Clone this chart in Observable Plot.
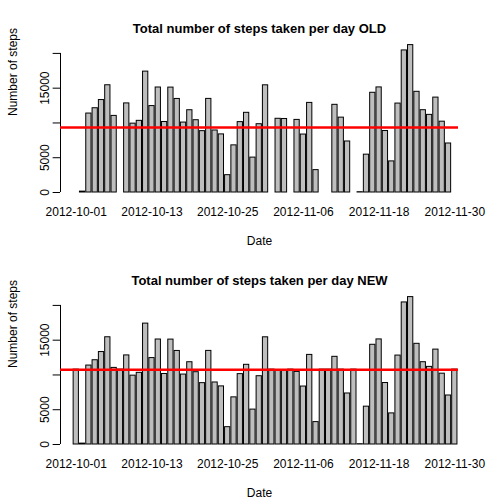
<!DOCTYPE html>
<html><head>
<script src="https://cdn.jsdelivr.net/npm/d3@7"></script>
<script src="https://cdn.jsdelivr.net/npm/@observablehq/plot@0.6"></script>
<style>body{margin:0;background:#fff}svg{display:block}</style>
</head><body><div id="chart"></div>
<script>
const dates = d3.timeDay.range(new Date(2012, 9, 1), new Date(2012, 11, 1)).map(d3.timeFormat('%Y-%m-%d'))
const stepsOld = [null,126,11352,12116,13294,15420,11015,null,12811,9900,10304,17382,12426,15098,10139,15084,13452,10056,11829,10395,8821,13460,8918,8355,2492,6778,10119,11458,5018,9819,15414,null,10600,10571,null,10439,8334,12883,3219,null,null,12608,10765,7336,null,41,5441,14339,15110,8841,4472,12787,20427,21194,14478,11834,11162,13646,10183,7047,null]
const fillValue = 10766.19
const stepsNew = stepsOld.map(v => v == null ? fillValue : v)
const meanOld = 9354.23
const meanNew = 10766.19
const yTicks = [0, 5000, 10000, 15000, 20000]
const yLabels = {0: '0', 5000: '5000', 15000: '15000'}
const labelIdx = [0, 12, 24, 36, 48, 60]
const axisX = -2.3

function panel(values, mean, title) {
  const data = values.map((v, i) => ({i, date: dates[i], v})).filter(d => d.v != null)
  const labs = labelIdx.map(i => ({x: 0.7 + 1.2 * i, t: dates[i]}))
  return Plot.plot({
    width: 504, height: 252,
    marginLeft: 60, marginRight: 46, marginTop: 39, marginBottom: 60,
    style: {fontFamily: 'Liberation Sans, Arial, sans-serif', fontSize: '12px', color: '#000'},
    x: {type: 'linear', domain: [-2.3, 73.4], axis: null},
    y: {type: 'linear', domain: [0, 22000], axis: null},
    marks: [
      Plot.rectY(data, {x1: d => 0.2 + 1.2 * d.i, x2: d => 1.2 + 1.2 * d.i, y1: 0, y2: 'v', fill: '#bebebe', stroke: '#000', strokeWidth: 1}),
      Plot.ruleX([axisX], {x: d => d, y1: 0, y2: 20000, stroke: '#000'}),
      Plot.ruleY(yTicks, {y: d => d, x1: axisX - 1.4, x2: axisX, stroke: '#000'}),
      Plot.text(yTicks.filter(t => yLabels[t]), {y: d => d, x: () => axisX, text: d => yLabels[d], rotate: -90, dx: -15, fontSize: 12}),
      Plot.text(labs, {x: 'x', text: 't', frameAnchor: 'bottom', dy: 23, fontSize: 12}),
      Plot.ruleY([mean], {y: d => d, stroke: '#ff0000', strokeWidth: 2.5}),
      Plot.text([title], {frameAnchor: 'top', dy: -16, fontWeight: 'bold', fontSize: 13}),
      Plot.text(['Date'], {frameAnchor: 'bottom', dy: 52, fontSize: 12}),
      Plot.text(['Number of steps'], {frameAnchor: 'left', dx: -47, rotate: -90, fontSize: 12})
    ]
  })
}
d3.select('#chart').append(() => panel(stepsOld, meanOld, 'Total number of steps taken per day OLD'))
d3.select('#chart').append(() => panel(stepsNew, meanNew, 'Total number of steps taken per day NEW'))
</script></body></html>
